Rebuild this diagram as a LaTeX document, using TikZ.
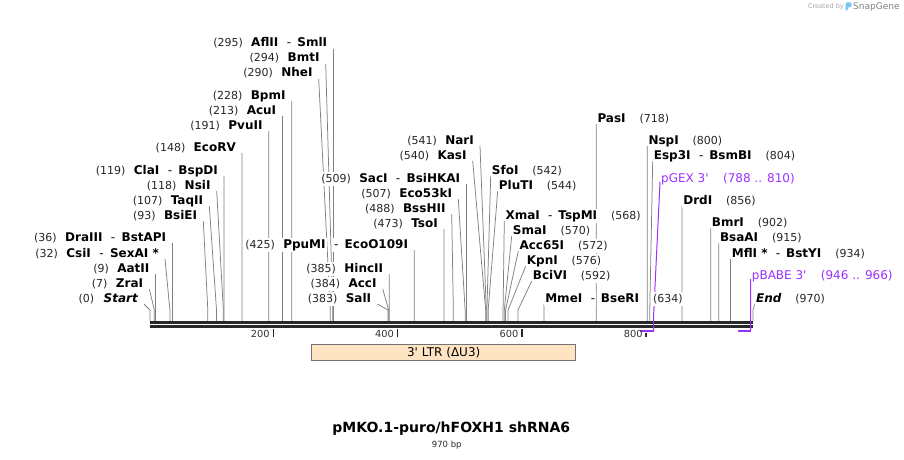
\documentclass[tikz,border=0pt]{standalone}
\usepackage{fontspec}
\setmainfont{DejaVu Sans}
\usetikzlibrary{positioning}
\pgfdeclarelayer{background}
\pgfsetlayers{background,main}
\definecolor{primer}{RGB}{155,48,255}
\definecolor{ltrfill}{RGB}{255,228,196}
\definecolor{seqgray}{RGB}{40,40,40}
\definecolor{snapblue}{RGB}{120,200,240}

\begin{document}
\begin{tikzpicture}[x=1pt, y=-1pt,
    enz/.style={font=\fontsize{12}{14}\selectfont\bfseries, fill=white, inner sep=1pt, text height=9pt, text depth=2.5pt},
    dashlab/.style={enz, font=\fontsize{12}{14}\selectfont},
    bpnum/.style={font=\fontsize{11}{13}\selectfont, text=black!85, fill=white, inner sep=1pt, text height=9pt, text depth=2.5pt},
    siteline/.style={draw=black!50, line width=0.75pt},
    prmtext/.style={font=\fontsize{12}{14}\selectfont, text=primer, inner sep=1pt, text height=9pt, text depth=2.5pt},
    prmline/.style={draw=primer, line width=1pt},
    seqline/.style={draw=seqgray, line width=2.8pt},
    tickmark/.style={draw=seqgray, line width=1.6pt},
    ticklab/.style={font=\fontsize{9.8}{11}\selectfont, text=black!80, inner sep=1pt},
    ltr/.style={draw=black!55, fill=ltrfill, line width=0.8pt, minimum width=264pt, minimum height=16.7pt, font=\fontsize{12}{14}\selectfont, inner sep=0pt}
]
\useasboundingbox (0,0) rectangle (904,460);

% sites labelled on the left: (number) name
\foreach \id/\ax/\yb/\bp in {BmtI/325.7/62/294, NheI/318.7/77/290, BpmI/291.7/99/228,
    AcuI/282.4/114/213, PvuII/268.7/129/191, EcoRV/242.0/151/148, NsiI/216.7/189/118,
    TaqII/209.3/204/107, BsiEI/203.3/219/93, AatII/155.6/272/9, ZraI/149.3/287/7,
    Eco53kI/458.3/197/507, BssHII/451.7/212/488, TsoI/444.0/227/473, HincII/389.3/272/385,
    AccI/382.7/287/384, SalI/377.3/302/383, NarI/480.0/144/541, KasI/472.7/159/540} {
    \node[enz, anchor=base east] (n\id) at ({\ax-5},\yb) {\id};
    \node[bpnum, left=6pt of n\id] (p\id) {(\bp)};
    \coordinate (k\id) at ({150+0.6216*\bp},310);
    \coordinate (s\id) at ({150+0.6216*\bp},321);
    \begin{pgfonlayer}{background}
        \draw[siteline] ([shift={(5,2)}]n\id.base east) -- (k\id) -- (s\id);
    \end{pgfonlayer}
}
\foreach \id/\ax/\yb/\bp/\first/\second in {AflII/333.4/47/295/AflII/SmlI,
    ClaI/224.0/174/119/ClaI/BspDI, DraIII/172.4/241/36/DraIII/BstAPI,
    CsiI/165.0/257/32/CsiI/SexAI *, SacI/466.4/182/509/SacI/BsiHKAI,
    PpuMI/414.2/248/425/PpuMI/EcoO109I} {
    \node[enz, anchor=base east] (n\id) at ({\ax-5},\yb) {\second};
    \node[dashlab, left=4pt of n\id] (d\id) {-};
    \node[enz, left=6pt of d\id] (a\id) {\first};
    \node[bpnum, left=6pt of a\id] (p\id) {(\bp)};
    \coordinate (k\id) at ({150+0.6216*\bp},310);
    \coordinate (s\id) at ({150+0.6216*\bp},321);
    \begin{pgfonlayer}{background}
        \draw[siteline] ([shift={(5,2)}]n\id.base east) -- (k\id) -- (s\id);
    \end{pgfonlayer}
}

% sites labelled on the right: name (number)
\foreach \id/\ax/\yb/\bp in {SfoI/490.7/174/542, PluTI/497.7/189/544, SmaI/511.7/234/570,
    Acc65I/518.3/249/572, KpnI/525.7/264/576, BciVI/531.7/279/592, PasI/596.3/122/718,
    NspI/647.3/144/800, DrdI/682.1/204/856, BmrI/710.7/226/902, BsaAI/718.8/241/915} {
    \node[enz, anchor=base west] (n\id) at (\ax,\yb) {\id};
    \node[bpnum, right=11.5pt of n\id] (p\id) {(\bp)};
    \coordinate (k\id) at ({150+0.6216*\bp},310);
    \coordinate (s\id) at ({150+0.6216*\bp},321);
    \begin{pgfonlayer}{background}
        \draw[siteline] ([shift={(0,2)}]n\id.base west) -- (k\id) -- (s\id);
    \end{pgfonlayer}
}
\foreach \id/\ax/\yb/\bp/\first/\second in {XmaI/504.3/219/568/XmaI/TspMI,
    MmeI/544.1/302/634/MmeI/BseRI, Esp3I/652.7/159/804/Esp3I/BsmBI,
    MflI/730.6/257/934/MflI */BstYI} {
    \node[enz, anchor=base west] (n\id) at (\ax,\yb) {\first};
    \node[dashlab, right=6pt of n\id] (d\id) {-};
    \node[enz, right=3.5pt of d\id] (b\id) {\second};
    \node[bpnum, right=11.5pt of b\id] (p\id) {(\bp)};
    \coordinate (k\id) at ({150+0.6216*\bp},310);
    \coordinate (s\id) at ({150+0.6216*\bp},321);
    \begin{pgfonlayer}{background}
        \draw[siteline] ([shift={(0,2)}]n\id.base west) -- (k\id) -- (s\id);
    \end{pgfonlayer}
}

% ends of the sequence
\node[enz, anchor=base east] (nStart) at (139,302) {\itshape Start};
\node[bpnum, left=7pt of nStart] (pStart) {(0)};
\node[enz, anchor=base west] (nEnd) at (755,302) {\itshape End};
\node[bpnum, right=11.5pt of nEnd] (pEnd) {(970)};
\coordinate (kStart) at (150,310);
\coordinate (sStart) at (150,321);
\coordinate (kEnd) at (753,310);
\coordinate (sEnd) at (753,321);

% primers
\node[prmtext, anchor=base west] (pGEX) at (660,182) {pGEX 3\textquotesingle};
\node[prmtext, right=12pt of pGEX] (pGEXrange) {(788 .. 810)};
\node[prmtext, anchor=base west] (pBABE) at (750.7,279) {pBABE 3\textquotesingle};
\node[prmtext, right=12pt of pBABE] (pBABErange) {(946 .. 966)};
\coordinate (pGEXa) at (639.8,330.5);
\coordinate (pGEXb) at (653.5,330.5);
\coordinate (pGEXk) at (653.5,318);
\coordinate (pBABEa) at (738,330.5);
\coordinate (pBABEb) at (750.5,330.5);

\begin{pgfonlayer}{background}
    \draw[siteline] ([shift={(5,2)}]nStart.base east) -- (kStart) -- (sStart);
    \draw[siteline] ([shift={(0,2)}]nEnd.base west) -- (kEnd) -- (sEnd);

    % sequence
    \draw[seqline] (150,322.5) -- (753,322.5);
    \draw[seqline, line width=2.4pt] (150,326.3) -- (753,326.3);
    \foreach \tk in {200,400,600,800} {
        \draw[tickmark] ({149+0.6216*\tk},328.5) -- ({149+0.6216*\tk},336.5);
    }

    \draw[white, line width=5pt] (pGEXa) -- (pGEXb);
    \draw[prmline, line width=2pt] (pGEXa) -- (pGEXb);
    \draw[prmline] (pGEX.base west) -- (pGEXk) -- (pGEXb);
    \draw[white, line width=5pt] (pBABEa) -- (pBABEb);
    \draw[prmline, line width=2pt] (pBABEa) -- (pBABEb);
    \draw[prmline] (pBABE.base west) -- (pBABEb);
\end{pgfonlayer}

\foreach \tk in {200,400,600,800} {
    \node[ticklab, anchor=east] (t\tk) at ({146.5+0.6216*\tk},333.7) {\tk};
}

% feature
\node[ltr] (ltrbox) at (443.7,352.3) {3\textquotesingle\ LTR (ΔU3)};

% title
\node[font=\fontsize{14}{16}\selectfont\bfseries, anchor=base] (title) at (451.3,432.5) {pMKO.1-puro/hFOXH1 shRNA6};
\node[font=\fontsize{8.5}{10}\selectfont, text=black!85, anchor=base] (size) at (446.7,447.5) {970 bp};

% watermark
\node[font=\fontsize{6.5}{8}\selectfont, text=black!35, anchor=east, inner sep=0pt] (made) at (844,7) {Created by};
\fill[snapblue, rounded corners=1.2pt] (845.5,2.5) -- (851.5,2.5) -- (851.5,7) -- (848,7) -- (848,10.5) -- (845.5,10.5) -- cycle;
\node[font=\fontsize{9}{10}\selectfont, text=black!50, anchor=west, inner sep=0pt] (brand) at (853,6.7) {SnapGene};

\end{tikzpicture}
\end{document}
